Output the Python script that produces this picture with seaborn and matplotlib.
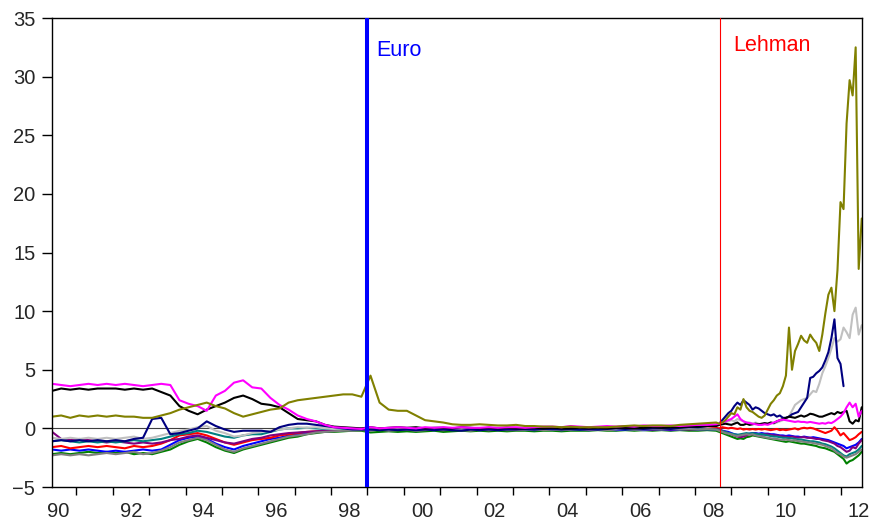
import matplotlib
matplotlib.use("Agg")
import matplotlib.pyplot as plt
import seaborn as sb
import numpy as np
import pandas as pd

# dates: quarterly up to Aug 2008, monthly afterwards
early = pd.date_range('1990-05-01', '2008-08-01', freq='3MS')
late = pd.date_range('2008-09-01', '2012-08-01', freq='MS')
dates = early.append(late)
t = np.array(dates.year + (dates.month - 1) / 12.0)

nan = np.nan

greece = [1.0, 1.1, 0.9,
          1.1, 1.0, 1.1, 1.0,
          1.1, 1.0, 1.0, 0.9,
          0.9, 1.1, 1.3, 1.6,
          1.8, 2.0, 2.2, 1.9,
          1.7, 1.3, 1.0, 1.2,
          1.4, 1.6, 1.7, 2.2,
          2.4, 2.5, 2.6, 2.7,
          2.8, 2.9, 2.9, 2.7,
          4.5, 2.2, 1.6, 1.5,
          1.5, 1.1, 0.7, 0.6,
          0.5, 0.35, 0.3, 0.3,
          0.35, 0.3, 0.25, 0.25,
          0.3, 0.2, 0.2, 0.15,
          0.15, 0.1, 0.15, 0.1,
          0.1, 0.1, 0.1, 0.15,
          0.2, 0.25, 0.2, 0.25,
          0.25, 0.2, 0.3, 0.35,
          0.4, 0.45, 0.5,
          0.4, 0.5, 0.7, 1.0,
          1.3, 1.2, 1.8, 1.6, 2.5, 1.8, 1.5, 1.4, 1.2, 1.0, 0.9, 1.1,
          1.6, 2.1, 2.4, 2.8, 3.0, 3.6, 4.5, 8.6, 5.0, 6.6, 7.2, 7.9,
          7.5, 7.3, 8.0, 7.6, 7.3, 6.6, 8.0, 9.8, 11.4, 12.0, 10.0, 13.5,
          19.3, 18.7, 26.0, 29.7, 28.4, 32.5, 13.6, 17.9]

portugal = [-0.8, -0.9, -0.8,
            -0.9, -0.8, -0.9, -0.8,
            -0.9, -0.8, -0.7, -0.9,
            -0.8, -0.6, -0.4, -0.2,
            -0.1, 0.1, 0.2, -0.2,
            -0.4, -0.7, -0.6, -0.4,
            -0.3, -0.2, -0.1, 0.0,
            0.1, 0.05, 0.1, 0.0,
            -0.05, 0.0, -0.1, -0.05,
            0.05, 0.0, -0.1, 0.05,
            0.0, -0.1, 0.05, -0.05,
            0.05, -0.05, 0.0, 0.05,
            -0.05, 0.05, 0.0, -0.05,
            0.0, 0.05, -0.05, 0.0,
            0.05, 0.0, -0.05, 0.05,
            0.0, 0.05, 0.0, -0.05,
            0.05, 0.0, 0.05, 0.0,
            0.0, 0.05, 0.1, 0.05,
            0.1, 0.15, 0.2,
            0.3, 0.4, 0.5, 0.6,
            0.7, 0.6, 0.8, 0.7, 0.6, 0.5, 0.5, 0.4, 0.5, 0.4, 0.3, 0.4,
            0.4, 0.5, 0.4, 0.5, 0.6, 0.7, 0.8, 1.0, 1.5, 2.0, 2.2, 2.4,
            2.5, 2.6, 2.9, 3.2, 3.1, 3.8, 4.7, 5.3, 6.0, 6.8, 7.7, 7.4,
            7.6, 8.6, 8.2, 7.7, 9.7, 10.3, 8.0, 8.8]

ireland = [-1.1, -1.0, -1.1,
           -1.0, -1.1, -1.0, -1.1,
           -1.0, -1.1, -0.9, -0.8,
           0.8, 0.9, -0.5, -0.4,
           -0.2, 0.0, 0.6, 0.2,
           -0.1, -0.3, -0.2, -0.2,
           -0.2, -0.3, 0.1, 0.3,
           0.4, 0.4, 0.3, 0.2,
           0.1, 0.0, -0.1, -0.1,
           -0.1, -0.15, -0.1, -0.15,
           -0.1, -0.15, -0.1, -0.15,
           -0.1, -0.15, -0.2, -0.1,
           -0.15, -0.1, -0.15, -0.1,
           -0.1, -0.05, -0.1, -0.05,
           -0.05, -0.1, -0.05, -0.1,
           -0.05, -0.1, -0.05, 0.0,
           -0.05, 0.0, -0.05, 0.0,
           0.0, -0.05, 0.05, 0.1,
           0.1, 0.2, 0.3,
           0.4, 0.7, 1.0, 1.3,
           1.5, 1.9, 2.2, 2.0, 2.4, 2.2, 2.0, 1.6, 1.8, 1.7, 1.5, 1.3,
           1.2, 1.1, 1.2, 1.0, 1.1, 0.9, 0.9, 1.0, 1.2, 1.3, 1.4, 1.8,
           2.2, 2.6, 4.3, 4.4, 4.7, 4.9, 5.2, 5.8, 6.5, 7.7, 9.3, 6.0,
           5.5, 3.6, nan, nan, nan, nan, nan, nan]

italy = [3.2, 3.4, 3.3,
         3.4, 3.3, 3.4, 3.4,
         3.4, 3.3, 3.4, 3.3,
         3.4, 3.1, 2.8, 1.9,
         1.5, 1.2, 1.6, 1.9,
         2.2, 2.6, 2.8, 2.5,
         2.1, 2.0, 1.8, 1.3,
         0.8, 0.7, 0.6, 0.3,
         0.15, 0.1, 0.05, 0.0,
         0.1, 0.0, 0.05, 0.1,
         0.05, 0.1, 0.0, 0.05,
         0.05, 0.0, 0.1, 0.05,
         0.0, 0.05, 0.0, 0.05,
         0.0, 0.0, 0.05, 0.0,
         0.05, 0.0, 0.0, 0.05,
         0.0, 0.05, 0.0, 0.05,
         0.05, 0.0, 0.05, 0.1,
         0.05, 0.1, 0.1, 0.15,
         0.15, 0.2, 0.2,
         0.3, 0.35, 0.4, 0.35,
         0.3, 0.4, 0.5, 0.3, 0.3, 0.4, 0.3, 0.35, 0.4, 0.35, 0.4, 0.45,
         0.4, 0.5, 0.45, 0.6, 0.7, 0.8, 0.9, 1.0, 0.95, 0.9, 1.0, 1.1,
         1.0, 1.1, 1.25, 1.2, 1.1, 1.0, 1.0, 1.1, 1.2, 1.3, 1.2, 1.4,
         1.3, 1.4, 1.5, 0.6, 0.4, 0.7, 0.6, 1.8]

spain = [3.8, 3.7, 3.6,
         3.7, 3.8, 3.7, 3.8,
         3.7, 3.8, 3.7, 3.6,
         3.7, 3.8, 3.7, 2.4,
         2.1, 1.9, 1.5, 2.8,
         3.2, 3.9, 4.1, 3.5,
         3.4, 2.6, 2.0, 1.6,
         1.1, 0.8, 0.6, 0.3,
         0.1, 0.05, 0.0, -0.05,
         0.1, 0.0, 0.05, 0.1,
         0.05, 0.0, 0.1, 0.05,
         0.1, 0.05, 0.1, 0.05,
         0.05, 0.1, 0.05, 0.1,
         0.1, 0.05, 0.1, 0.15,
         0.15, 0.1, 0.2, 0.15,
         0.1, 0.15, 0.2, 0.15,
         0.2, 0.15, 0.25, 0.2,
         0.2, 0.25, 0.2, 0.25,
         0.3, 0.3, 0.35,
         0.4, 0.5, 0.6, 0.7,
         0.8, 1.0, 1.2, 0.8, 0.6, 0.5, 0.45, 0.4, 0.35, 0.3, 0.3, 0.35,
         0.3, 0.4, 0.5, 0.6, 0.7, 0.75, 0.7, 0.65, 0.6, 0.55, 0.6, 0.55,
         0.55, 0.5, 0.55, 0.5, 0.45, 0.4, 0.45, 0.4, 0.5, 0.45, 0.6, 0.8,
         1.0, 1.3, 1.8, 2.2, 1.8, 2.1, 1.0, 1.5]

belgium = [-1.6, -1.5, -1.7,
           -1.6, -1.5, -1.6, -1.5,
           -1.6, -1.7, -1.5, -1.6,
           -1.5, -1.3, -1.0, -0.6,
           -0.5, -0.4, -0.6, -0.9,
           -1.2, -1.4, -1.2, -1.0,
           -0.9, -0.8, -0.6, -0.5,
           -0.4, -0.3, -0.25, -0.2,
           -0.15, -0.1, -0.1, -0.05,
           -0.05, -0.1, -0.05, -0.1,
           -0.05, 0.0, -0.05, -0.1,
           -0.05, -0.1, -0.05, 0.0,
           -0.05, -0.1, -0.05, -0.05,
           -0.1, -0.05, 0.0, -0.05,
           -0.05, -0.1, -0.05, 0.0,
           -0.05, 0.0, -0.05, -0.05,
           0.0, -0.05, 0.0, -0.05,
           -0.05, 0.0, 0.05, 0.0,
           0.05, 0.0, 0.05,
           0.0, 0.1, 0.05, 0.0,
           0.05, 0.0, -0.05, 0.0, -0.1, -0.05, -0.1, -0.05, -0.1, -0.05, -0.1, -0.05,
           -0.1, -0.15, -0.1, -0.05, -0.15, -0.1, -0.15, -0.1, -0.05, 0.0, -0.1, 0.0,
           0.05, 0.0, 0.05, 0.0, -0.1, -0.2, -0.3, -0.4, -0.3, -0.2, 0.1, -0.2,
           -0.6, -0.4, -0.7, -1.0, -0.9, -0.75, -0.5, -0.3]

france = [-0.3, -0.9, -1.0,
          -0.9, -1.0, -1.1, -1.2,
          -1.1, -1.2, -1.3, -1.2,
          -1.3, -1.2, -1.0, -0.9,
          -0.7, -0.6, -0.8, -1.0,
          -1.2, -1.3, -1.1, -0.9,
          -0.8, -0.6, -0.5, -0.4,
          -0.35, -0.3, -0.25, -0.2,
          -0.15, -0.1, -0.1, -0.1,
          -0.1, -0.15, -0.1, -0.05,
          -0.1, -0.15, -0.1, -0.1,
          -0.15, -0.1, -0.05, -0.1,
          -0.1, -0.15, -0.1, -0.05,
          -0.1, -0.05, -0.1, -0.1,
          -0.05, -0.1, -0.05, -0.1,
          -0.1, -0.05, -0.1, -0.05,
          -0.05, -0.1, -0.05, -0.1,
          -0.05, -0.1, -0.05, -0.1,
          -0.05, -0.1, -0.05,
          -0.1, -0.2, -0.3, -0.4,
          -0.5, -0.6, -0.7, -0.75, -0.7, -0.6, -0.5, -0.5, -0.45, -0.5, -0.55, -0.5,
          -0.5, -0.55, -0.6, -0.6, -0.65, -0.7, -0.7, -0.75, -0.7, -0.75, -0.8, -0.75,
          -0.75, -0.8, -0.8, -0.85, -0.9, -0.9, -1.0, -1.05, -1.1, -1.2, -1.3, -1.5,
          -1.6, -1.8, -2.0, -1.9, -1.6, -1.7, -1.3, -1.0]

austria = [-1.8, -1.9, -1.8,
           -1.9, -1.8, -1.9, -2.0,
           -1.9, -2.0, -1.9, -1.8,
           -1.9, -1.8, -1.4, -1.0,
           -0.8, -0.7, -0.9, -1.3,
           -1.6, -1.8, -1.5, -1.3,
           -1.1, -0.9, -0.8, -0.6,
           -0.5, -0.4, -0.3, -0.25,
           -0.2, -0.15, -0.1, -0.1,
           -0.15, -0.1, -0.15, -0.1,
           -0.1, -0.15, -0.1, -0.15,
           -0.1, -0.15, -0.1, -0.1,
           -0.15, -0.1, -0.15, -0.1,
           -0.1, -0.1, -0.15, -0.1,
           -0.1, -0.15, -0.1, -0.1,
           -0.15, -0.1, -0.1, -0.15,
           -0.1, -0.1, -0.15, -0.1,
           -0.1, -0.15, -0.1, -0.05,
           -0.1, -0.05, -0.1,
           -0.1, -0.2, -0.25, -0.3,
           -0.4, -0.5, -0.55, -0.6, -0.55, -0.5, -0.45, -0.4, -0.4, -0.45, -0.4, -0.45,
           -0.45, -0.5, -0.5, -0.55, -0.6, -0.6, -0.65, -0.6, -0.65, -0.7, -0.7, -0.75,
           -0.7, -0.75, -0.8, -0.75, -0.8, -0.85, -0.9, -0.95, -1.0, -1.1, -1.2, -1.3,
           -1.4, -1.5, -1.7, -1.6, -1.5, -1.4, -1.2, -0.9]

germany = [-2.2, -2.1, -2.2,
           -2.1, -2.0, -2.1, -2.0,
           -2.1, -2.0, -2.2, -2.1,
           -2.2, -2.0, -1.8, -1.4,
           -1.1, -0.9, -1.2, -1.6,
           -1.9, -2.1, -1.8, -1.6,
           -1.4, -1.2, -1.0, -0.8,
           -0.7, -0.5, -0.4, -0.3,
           -0.3, -0.25, -0.2, -0.2,
           -0.35, -0.3, -0.25, -0.3,
           -0.25, -0.3, -0.25, -0.2,
           -0.3, -0.25, -0.2, -0.25,
           -0.2, -0.25, -0.2, -0.25,
           -0.2, -0.2, -0.25, -0.2,
           -0.2, -0.25, -0.2, -0.2,
           -0.2, -0.15, -0.2, -0.2,
           -0.15, -0.2, -0.15, -0.2,
           -0.15, -0.2, -0.15, -0.2,
           -0.2, -0.15, -0.2,
           -0.3, -0.4, -0.5, -0.6,
           -0.7, -0.8, -0.9, -0.85, -0.9, -0.75, -0.7, -0.6, -0.65, -0.7, -0.75, -0.8,
           -0.85, -0.9, -0.95, -1.0, -1.05, -1.1, -1.15, -1.1, -1.15, -1.2, -1.25, -1.3,
           -1.3, -1.35, -1.4, -1.45, -1.5, -1.6, -1.65, -1.7, -1.8, -1.9, -2.0, -2.2,
           -2.4, -2.6, -3.0, -2.8, -2.7, -2.5, -2.3, -2.0]

finland = [-2.3, -2.2, -2.3,
           -2.2, -2.3, -2.2, -2.1,
           -2.2, -2.1, -2.0, -2.2,
           -2.1, -1.9, -1.6, -1.2,
           -1.0, -0.8, -1.0, -1.4,
           -1.8, -2.0, -1.7, -1.5,
           -1.3, -1.1, -0.9, -0.7,
           -0.6, -0.5, -0.35, -0.3,
           -0.25, -0.2, -0.2, -0.15,
           -0.2, -0.1, -0.2, -0.15,
           -0.1, -0.2, -0.15, -0.1,
           -0.15, -0.1, -0.15, -0.2,
           -0.1, -0.15, -0.1, -0.15,
           -0.15, -0.1, -0.1, -0.15,
           -0.1, -0.15, -0.1, -0.05,
           -0.1, -0.1, -0.15, -0.1,
           -0.05, -0.1, -0.1, -0.05,
           -0.1, -0.05, -0.1, -0.05,
           -0.1, -0.05, -0.1,
           -0.2, -0.3, -0.4, -0.45,
           -0.5, -0.6, -0.65, -0.6, -0.55, -0.5, -0.55, -0.5, -0.6, -0.65, -0.7, -0.75,
           -0.8, -0.85, -0.9, -0.9, -0.95, -1.0, -0.95, -1.0, -1.05, -1.0, -1.1, -1.1,
           -1.15, -1.2, -1.2, -1.25, -1.3, -1.35, -1.4, -1.5, -1.6, -1.7, -1.9, -2.1,
           -2.2, -2.4, -2.5, -2.4, -2.3, -2.2, -2.0, -1.8]

netherlands = [-1.1, -1.0, -1.1,
               -1.2, -1.1, -1.2, -1.1,
               -1.2, -1.1, -1.0, -1.1,
               -1.0, -0.9, -0.7, -0.5,
               -0.4, -0.2, -0.3, -0.5,
               -0.7, -0.8, -0.6, -0.5,
               -0.5, -0.3, -0.1, 0.0,
               0.0, 0.05, 0.0, -0.05,
               -0.05, -0.1, -0.1, -0.1,
               -0.1, -0.15, -0.1, -0.05,
               -0.1, -0.05, -0.1, -0.15,
               -0.1, -0.05, -0.1, -0.1,
               -0.05, -0.1, -0.1, -0.05,
               -0.1, -0.05, -0.1, -0.05,
               -0.05, -0.1, -0.05, -0.1,
               -0.05, -0.05, -0.1, -0.05,
               -0.05, -0.1, -0.05, -0.05,
               -0.05, 0.0, -0.05, -0.05,
               -0.05, -0.1, -0.1,
               -0.15, -0.25, -0.3, -0.4,
               -0.45, -0.5, -0.55, -0.5, -0.45, -0.4, -0.45, -0.4, -0.45, -0.5, -0.5, -0.55,
               -0.6, -0.65, -0.7, -0.7, -0.75, -0.8, -0.8, -0.85, -0.85, -0.9, -0.95, -0.95,
               -1.0, -1.05, -1.1, -1.1, -1.15, -1.2, -1.3, -1.35, -1.45, -1.55, -1.7, -1.9,
               -2.1, -2.3, -2.4, -2.2, -2.1, -2.0, -1.8, -1.5]

series = {'Germany': germany, 'Austria': austria, 'Belgium': belgium,
          'France': france, 'Netherlands': netherlands, 'Finland': finland,
          'Portugal': portugal, 'Ireland': ireland, 'Italy': italy,
          'Spain': spain, 'Greece': greece}
colors = {'Germany': '#008000', 'Austria': '#0000FF', 'Belgium': '#FF0000',
          'France': '#800080', 'Netherlands': '#008080', 'Finland': '#808080',
          'Portugal': '#C0C0C0', 'Ireland': '#000080', 'Italy': '#000000',
          'Spain': '#FF00FF', 'Greece': '#808000'}

frames = []
for name, vals in series.items():
    assert len(vals) == len(t), name
    frames.append(pd.DataFrame({'date': t, 'spread': vals, 'country': name}))
df = pd.concat(frames).dropna()

sb.set_style("ticks")
plt.rcParams['font.family'] = ['Liberation Sans', 'DejaVu Sans']

fig = plt.figure(figsize=(8.72, 5.24), dpi=100)
ax = fig.add_axes([0.0596, 0.0706, 0.9289, 0.895])

ax.axhline(0, color='#404040', lw=0.8, zorder=1)
sb.lineplot(data=df, x='date', y='spread', hue='country', hue_order=list(series.keys()),
            palette=colors, estimator=None, sort=False, legend=False, lw=1.5, ax=ax)

ax.axvline(1999.0, color='#0000FF', lw=2.9, zorder=5)
ax.axvline(2008.70, color='#FF0000', lw=0.8, zorder=5)
ax.text(1999.25, 31.8, 'Euro', color='#0000FF', fontsize=15.5, va='baseline', ha='left')
ax.text(2009.06, 32.2, 'Lehman', color='#FF0000', fontsize=15.5, va='baseline', ha='left')

ax.set_xlim(1990.33, 2012.59)
ax.set_ylim(-5, 35)
ax.set_yticks(range(-5, 36, 5))
ax.set_xticks(range(1991, 2013))
ax.set_xticklabels([])
ax.set_xticks(np.arange(1990.5, 2013, 2), minor=True)
ax.set_xticklabels(['%02d' % (y % 100) for y in range(1990, 2013, 2)], minor=True)
ax.tick_params(axis='x', which='major', direction='out', length=6, width=1, color='black')
ax.tick_params(axis='x', which='minor', length=0, labelsize=14.5, pad=11)
ax.tick_params(axis='y', direction='out', length=7, width=1, labelsize=14.5, pad=5, color='black')
ax.set_xlabel('')
ax.set_ylabel('')
for s in ax.spines.values():
    s.set_visible(True)
    s.set_color('black')
    s.set_linewidth(1.0)

plt.savefig('out.png', dpi=100)
